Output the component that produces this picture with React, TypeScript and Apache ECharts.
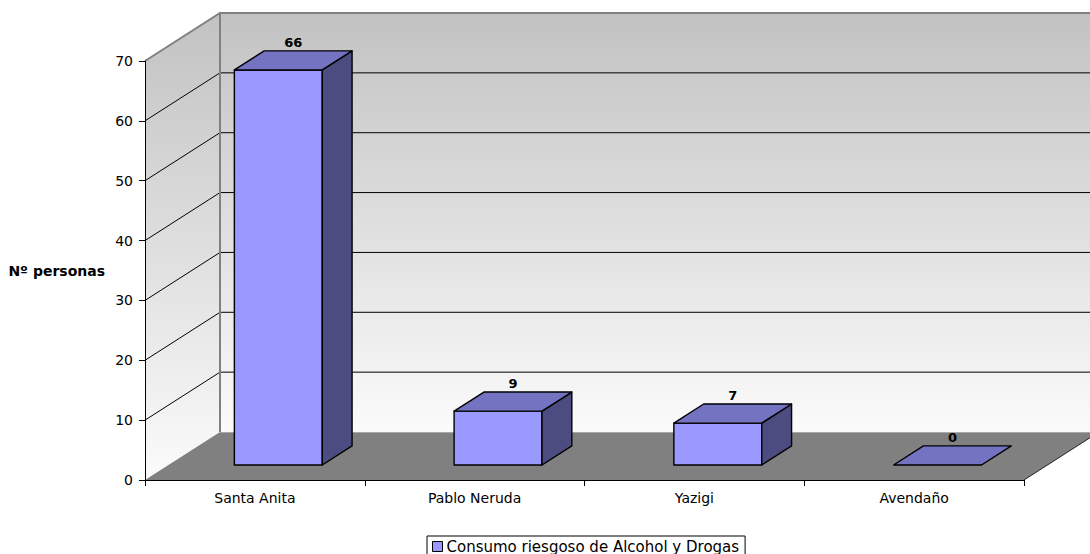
import React, { useEffect, useRef } from "react";
import * as echarts from "echarts";

const categories = ["Santa Anita", "Pablo Neruda", "Yazigi", "Avendaño"];
const values = [66, 9, 7, 0];
const seriesName = "Consumo riesgoso de Alcohol y Drogas";
const axisName = "Nº personas";
const yMin = 0;
const yMax = 70;
const yInterval = 10;
const gridValues = [10, 20, 30, 40, 50, 60];

const DX = 75;
const DY = -48;
const BAR_FRONT = 0.3125;
const BAR_BACK = 0.71;
const BAR_W = 0.4;
const FONT = "DejaVu Sans";

export default function App() {
  const ref = useRef<HTMLDivElement>(null);
  useEffect(() => {
    const chart = echarts.init(ref.current!, null, { renderer: "svg" });
    const option: any = {
      animation: false,
      backgroundColor: "#ffffff",
      grid: { left: 145, right: 66, top: 61, bottom: 74, containLabel: false },
      legend: {
        show: true,
        data: [
          {
            name: seriesName,
            icon: "rect",
            itemStyle: { color: "#9999FF", borderColor: "#000", borderWidth: 1 },
          },
        ],
        left: 427,
        top: 536,
        orient: "horizontal",
        itemWidth: 10,
        itemHeight: 10,
        itemGap: 4,
        padding: [3, 6, 6, 5],
        borderColor: "#000",
        borderWidth: 1,
        borderRadius: 0,
        textStyle: { fontFamily: FONT, fontSize: 15, color: "#000", padding: [0, 0, 0, -1] },
        selectedMode: false,
      },
      xAxis: {
        type: "category",
        data: categories,
        boundaryGap: true,
        z: 10,
        axisLine: { show: true, lineStyle: { color: "#000", width: 1 } },
        axisTick: { show: true, length: 6, interval: 0, lineStyle: { color: "#000" } },
        axisLabel: { margin: 11, fontFamily: FONT, fontSize: 14, color: "#000", interval: 0 },
        splitLine: { show: false },
      },
      yAxis: {
        type: "value",
        min: yMin,
        max: yMax,
        interval: yInterval,
        z: 10,
        name: axisName,
        nameLocation: "middle",
        nameRotate: 0,
        nameGap: 40,
        nameTextStyle: { fontFamily: FONT, fontSize: 14, fontWeight: "bold", color: "#000", align: "right" },
        axisLine: { show: true, lineStyle: { color: "#000", width: 1 } },
        axisTick: { show: true, length: 6, lineStyle: { color: "#000" } },
        axisLabel: { margin: 12, fontFamily: FONT, fontSize: 14, color: "#000" },
        splitLine: { show: false },
      },
      series: [
        {
          type: "custom",
          name: "walls",
          z: 1,
          silent: true,
          clip: false,
          data: [[0, 0]],
          renderItem: (params: any, api: any) => {
            const cs = params.coordSys;
            const left = cs.x;
            const right = cs.x + cs.width;
            const yTop = api.coord([0, yMax])[1];
            const yBot = api.coord([0, yMin])[1];
            const grad = {
              type: "linear",
              x: 0,
              y: 0,
              x2: 0,
              y2: 1,
              colorStops: [
                { offset: 0, color: "#c2c2c2" },
                { offset: 1, color: "#fbfbfb" },
              ],
            };
            const children: any[] = [];
            children.push({
              type: "polygon",
              shape: {
                points: [
                  [left + DX, yTop + DY],
                  [right + DX + 20, yTop + DY],
                  [right + DX + 20, yBot + DY],
                  [left + DX, yBot + DY],
                ],
              },
              style: { fill: grad, stroke: null },
            });
            children.push({
              type: "polygon",
              shape: {
                points: [
                  [left, yTop],
                  [left + DX, yTop + DY],
                  [left + DX, yBot + DY],
                  [left, yBot],
                ],
              },
              style: { fill: grad, stroke: null },
            });
            gridValues.forEach((v) => {
              const y = api.coord([0, v])[1];
              children.push({
                type: "polyline",
                shape: { points: [[left, y], [left + DX, y + DY], [right + DX + 20, y + DY]] },
                style: { fill: null, stroke: "#000", lineWidth: 1 },
              });
            });
            children.push({
              type: "polygon",
              shape: {
                points: [
                  [left, yBot],
                  [right, yBot],
                  [right + DX, yBot + DY],
                  [left + DX, yBot + DY],
                ],
              },
              style: { fill: "#808080", stroke: null },
            });
            children.push({
              type: "line",
              shape: { x1: left + DX, y1: yBot + DY + 0.5, x2: right + DX + 20, y2: yBot + DY + 0.5 },
              style: { stroke: "#a8a8a8", lineWidth: 1 },
            });
            children.push({
              type: "line",
              shape: { x1: right, y1: yBot, x2: right + DX, y2: yBot + DY },
              style: { stroke: "#222", lineWidth: 1 },
            });
            children.push({
              type: "polyline",
              shape: {
                points: [
                  [left, yTop],
                  [left + DX, yTop + DY],
                  [right + DX + 20, yTop + DY],
                ],
              },
              style: { fill: null, stroke: "#808080", lineWidth: 2 },
            });
            children.push({
              type: "line",
              shape: { x1: left + DX, y1: yTop + DY, x2: left + DX, y2: yBot + DY },
              style: { stroke: "#808080", lineWidth: 2 },
            });
            return { type: "group", children };
          },
        },
        {
          type: "custom",
          name: seriesName,
          z: 2,
          clip: false,
          itemStyle: { color: "#9999FF" },
          data: values.map((v, i) => [i, v]),
          renderItem: (params: any, api: any) => {
            const idx = api.value(0);
            const v = api.value(1);
            const base = api.coord([idx, 0]);
            const top = api.coord([idx, v]);
            const band = api.size([1, 0])[0];
            const w = band * BAR_W;
            const x0 = base[0] - w / 2 + DX * BAR_FRONT;
            const x1 = x0 + w;
            const yb = base[1] + DY * BAR_FRONT;
            const yt = top[1] + DY * BAR_FRONT;
            const ddx = DX * (BAR_BACK - BAR_FRONT);
            const ddy = DY * (BAR_BACK - BAR_FRONT);
            const stroke = { stroke: "#000", lineWidth: 1.4, lineJoin: "round" };
            const children: any[] = [];
            if (yb - yt > 0.5) {
              children.push({
                type: "polygon",
                shape: { points: [[x0, yt], [x1, yt], [x1, yb], [x0, yb]] },
                style: { fill: "#9999FF", ...stroke },
              });
              children.push({
                type: "polygon",
                shape: { points: [[x1, yt], [x1 + ddx, yt + ddy], [x1 + ddx, yb + ddy], [x1, yb]] },
                style: { fill: "#4C4C80", ...stroke },
              });
            }
            children.push({
              type: "polygon",
              shape: { points: [[x0, yt], [x0 + ddx, yt + ddy], [x1 + ddx, yt + ddy], [x1, yt]] },
              style: { fill: "#7373C2", ...stroke },
            });
            children.push({
              type: "text",
              style: {
                text: String(v),
                x: (x0 + x1) / 2 + ddx / 2,
                y: yt + ddy - 2,
                align: "center",
                verticalAlign: "bottom",
                fontFamily: FONT,
                fontSize: 13,
                fontWeight: "bold",
                fill: "#000",
              },
            });
            return { type: "group", children };
          },
        },
      ],
    };
    chart.setOption(option);
    return () => chart.dispose();
  }, []);
  return (
    <div
      ref={ref}
      style={{ position: "absolute", left: 0, top: 0, width: 1090, height: 554 }}
    />
  );
}
